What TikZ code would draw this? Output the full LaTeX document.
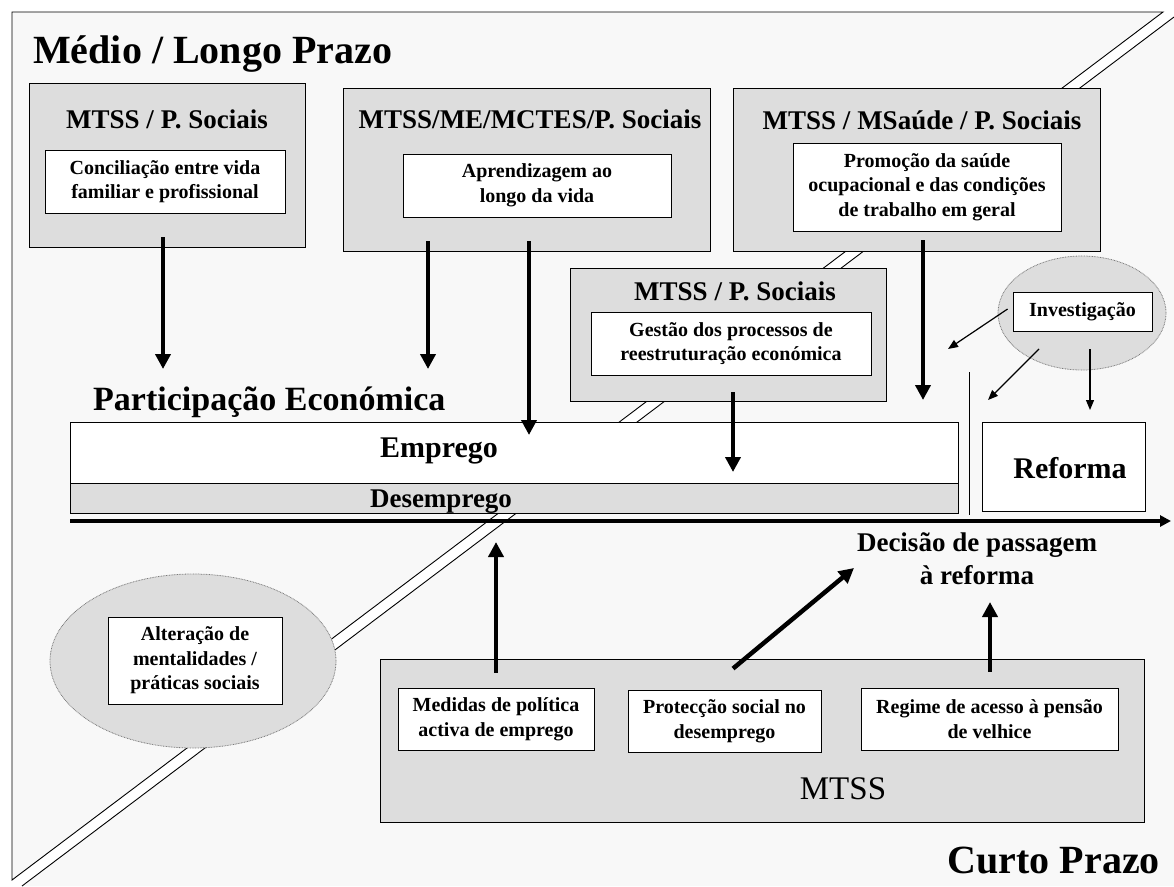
\documentclass[tikz,border=0pt]{standalone}
\usepackage{fontspec}
\setmainfont{Liberation Serif}
\usetikzlibrary{arrows.meta,shapes.geometric}

\definecolor{bggrey}{HTML}{F8F8F8}
\definecolor{boxgrey}{HTML}{DDDDDD}
\definecolor{rimgrey}{HTML}{7A7A7A}

\tikzset{
  panel/.style={draw, fill=boxgrey, line width=0.9pt, inner sep=0pt},
  topic/.style={draw, fill=white, line width=0.9pt, inner sep=0pt, align=center,
    font=\bfseries\fontsize{20}{24.5}\selectfont},
  head/.style={font=\bfseries\fontsize{27}{30}\selectfont, inner sep=0pt, anchor=base},
  cloud/.style={ellipse, draw=rimgrey, line width=0.8pt, dash pattern=on 0.8pt off 0.8pt,
    fill=boxgrey, inner sep=0pt},
  bigarrow/.style={line width=4.5pt, -{Triangle[width=15pt,length=15pt]}},
  thinarrow/.style={line width=1.2pt, -{Triangle[width=8pt,length=10pt]}},
}

\begin{document}
\begin{tikzpicture}[x=1pt,y=-1pt]
  \useasboundingbox (0,0) rectangle (1174,886);

  % Draw the two halves of the frame with the white band between them
  \fill[bggrey] (12,12) -- (1163,12) -- (12,880) -- cycle;
  \draw[line width=0.9pt] (1163,12) -- (12,12) -- (12,880) -- cycle;
  \fill[bggrey] (1174,17) -- (1174,886) -- (22,886) -- cycle;
  \draw[line width=0.9pt] (1174,17) -- (22,886);

  % Titles
  \node[anchor=base west, inner sep=0pt, font=\bfseries\fontsize{40}{44}\selectfont] (mlp) at (33,63) {Médio / Longo Prazo};
  \node[anchor=base east, inner sep=0pt, font=\bfseries\fontsize{40}{44}\selectfont] (cp) at (1160,873) {Curto Prazo};

  % Long term panels
  \node[panel, minimum width=276pt, minimum height=164pt] (g1) at (167,165) {};
  \node[head] (g1h) at (167,128) {MTSS / P. Sociais};
  \node[topic, minimum width=240pt, minimum height=63pt] (t1) at (165,181.5) {Conciliação entre vida\\familiar e profissional};

  \node[panel, minimum width=367pt, minimum height=163pt] (g2) at (526.5,169.5) {};
  \node[head] (g2h) at (530,128) {MTSS/ME/MCTES/P. Sociais};
  \node[topic, minimum width=268pt, minimum height=63pt] (t2) at (537,185.5) {Aprendizagem ao\\longo da vida};

  \node[panel, minimum width=367pt, minimum height=163pt] (g3) at (916.5,169.5) {};
  \node[head] (g3h) at (922,129) {MTSS / MSaúde / P. Sociais};
  \node[topic, minimum width=268pt, minimum height=88pt] (t3) at (927,187) {Promoção da saúde\\ocupacional e das condições\\de trabalho em geral};

  \node[panel, minimum width=316pt, minimum height=133pt] (g4) at (728,334.5) {};
  \node[head] (g4h) at (735,300) {MTSS / P. Sociais};
  \node[topic, minimum width=280pt, minimum height=63pt] (t4) at (731,343.5) {Gestão dos processos de\\reestruturação económica};

  % Research cloud
  \node[cloud, minimum width=168pt, minimum height=114pt] (e1) at (1082,313) {};
  \node[topic, minimum width=139pt, minimum height=39pt] (t8) at (1082.5,311.5) {Investigação};

  % Economic participation
  \node[anchor=base west, inner sep=0pt, font=\bfseries\fontsize{34}{38}\selectfont] (pe) at (93,410) {Participação Económica};
  \node[draw, fill=white, line width=0.9pt, minimum width=888pt, minimum height=61pt] (emp) at (514,452.5) {};
  \node[anchor=base, inner sep=0pt, font=\bfseries\fontsize{30}{34}\selectfont] (empl) at (439,457) {Emprego};
  \node[panel, minimum width=888pt, minimum height=30pt] (des) at (514,498) {};
  \node[anchor=base, inner sep=0pt, font=\bfseries\fontsize{27}{30}\selectfont] (desl) at (441,507) {Desemprego};
  \node[draw, fill=white, line width=0.9pt, minimum width=163pt, minimum height=89pt] (ref) at (1063.5,466.5) {};
  \node[anchor=base, inner sep=0pt, font=\bfseries\fontsize{30}{34}\selectfont] (refl) at (1070,478) {Reforma};

  % Time axis and divider
  \coordinate (ax0) at (70,521);
  \coordinate (ax1) at (1171,521);
  \draw[line width=3.5pt, -{Triangle[width=11pt,length=11pt]}] (ax0) -- (ax1);
  \coordinate (dv0) at (969,372);
  \coordinate (dv1) at (969,515);
  \draw[line width=0.9pt] (dv0) -- (dv1);
  \node[align=center, inner sep=0pt, font=\bfseries\fontsize{27}{33}\selectfont] (dec) at (977,559) {Decisão de passagem\\à reforma};

  % Mentality cloud
  \node[cloud, minimum width=286pt, minimum height=174pt] (e2) at (193,661) {};
  \node[topic, minimum width=174pt, minimum height=87pt] (t9) at (195,660.5) {Alteração de\\mentalidades /\\práticas sociais};

  % Short term panel
  \node[panel, minimum width=764pt, minimum height=163pt] (g5) at (762,740.5) {};
  \node[anchor=base, inner sep=0pt, font=\fontsize{33}{36}\selectfont] (g5h) at (843,799) {MTSS};
  \node[topic, minimum width=196pt, minimum height=62pt] (t5) at (496,719) {Medidas de política\\activa de emprego};
  \node[topic, minimum width=193pt, minimum height=62pt] (t6) at (724.5,721) {Protecção social no\\desemprego};
  \node[topic, minimum width=257pt, minimum height=62pt] (t7) at (989.5,719) {Regime de acesso à pensão\\de velhice};

  % Free ends of the arrows
  \coordinate (p1) at (163,369);
  \coordinate (p2) at (428,369);
  \coordinate (p3) at (529,435);
  \coordinate (p4) at (923,400);
  \coordinate (p5) at (733,472);
  \coordinate (p6) at (948,349);
  \coordinate (p7) at (988,400);
  \coordinate (p8) at (1090,410);
  \coordinate (p9) at (496,542);
  \coordinate (p10) at (854,568);
  \coordinate (p11) at (990,602);

  % Draw the arrows
  \draw[bigarrow] ([xshift=-4pt,yshift=10pt]g1.south) -- (p1);
  \draw[bigarrow] ([xshift=-98.5pt,yshift=10pt]g2.south) -- (p2);
  \draw[bigarrow] ([xshift=2.5pt,yshift=10pt]g2.south) -- (p3);
  \draw[bigarrow] ([xshift=6.5pt,yshift=11pt]g3.south) -- (p4);
  \draw[bigarrow] ([xshift=5pt,yshift=9pt]g4.south) -- (p5);
  \draw[thinarrow] ([xshift=10pt,yshift=4pt]e1.west) -- (p6);
  \draw[thinarrow] ([xshift=-43pt,yshift=-36pt]e1.center) -- (p7);
  \draw[thinarrow] ([xshift=8pt,yshift=-36pt]e1.center) -- (p8);
  \draw[bigarrow] ([yshift=15pt]t5.north) -- (p9);
  \draw[bigarrow] ([xshift=8.5pt,yshift=21pt]t6.north) -- (p10);
  \draw[bigarrow] ([xshift=0.5pt,yshift=16pt]t7.north) -- (p11);
\end{tikzpicture}
\end{document}
